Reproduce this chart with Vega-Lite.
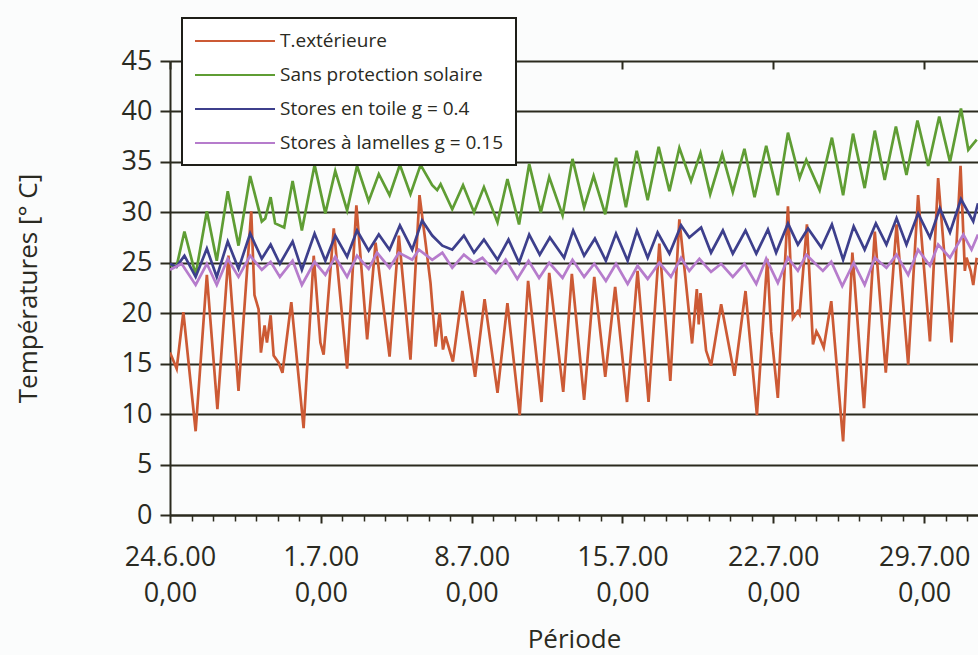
{
  "$schema": "https://vega.github.io/schema/vega-lite/v6.json",
  "width": 808,
  "height": 454,
  "autosize": "none",
  "padding": {"left": 170, "top": 61, "right": 0, "bottom": 140},
  "background": "#fbfcfc",
  "config": {
    "font": "Open Sans",
    "view": {"stroke": null},
    "legend": {"strokeWidth": 2}
  },
  "data": {"values": [
    {"s":"T.extérieure","d":0,"v":16.1},{"s":"T.extérieure","d":0.31,"v":14.5},{"s":"T.extérieure","d":0.62,"v":20.1},{"s":"T.extérieure","d":1.19,"v":8.3},{"s":"T.extérieure","d":1.71,"v":23.8},{"s":"T.extérieure","d":2.2,"v":10.5},{"s":"T.extérieure","d":2.71,"v":25.7},{"s":"T.extérieure","d":3.18,"v":12.3},{"s":"T.extérieure","d":3.77,"v":30.1},{"s":"T.extérieure","d":3.92,"v":21.8},{"s":"T.extérieure","d":4.11,"v":20.4},{"s":"T.extérieure","d":4.22,"v":16.1},{"s":"T.extérieure","d":4.39,"v":18.8},{"s":"T.extérieure","d":4.5,"v":17.1},{"s":"T.extérieure","d":4.67,"v":19.8},{"s":"T.extérieure","d":4.81,"v":15.8},{"s":"T.extérieure","d":5.04,"v":15.1},{"s":"T.extérieure","d":5.22,"v":14.1},{"s":"T.extérieure","d":5.63,"v":21.1},{"s":"T.extérieure","d":6.2,"v":8.6},{"s":"T.extérieure","d":6.67,"v":25.7},{"s":"T.extérieure","d":6.98,"v":17.1},{"s":"T.extérieure","d":7.13,"v":15.9},{"s":"T.extérieure","d":7.6,"v":28.4},{"s":"T.extérieure","d":8.22,"v":14.5},{"s":"T.extérieure","d":8.65,"v":30.7},{"s":"T.extérieure","d":9.15,"v":17.4},{"s":"T.extérieure","d":9.54,"v":27.0},{"s":"T.extérieure","d":10.19,"v":15.7},{"s":"T.extérieure","d":10.62,"v":27.7},{"s":"T.extérieure","d":11.16,"v":15.4},{"s":"T.extérieure","d":11.58,"v":31.7},{"s":"T.extérieure","d":11.86,"v":27.0},{"s":"T.extérieure","d":12.09,"v":23.0},{"s":"T.extérieure","d":12.33,"v":16.7},{"s":"T.extérieure","d":12.51,"v":20.0},{"s":"T.extérieure","d":12.67,"v":16.4},{"s":"T.extérieure","d":12.79,"v":17.7},{"s":"T.extérieure","d":13.13,"v":15.2},{"s":"T.extérieure","d":13.57,"v":22.2},{"s":"T.extérieure","d":14.16,"v":13.7},{"s":"T.extérieure","d":14.6,"v":21.4},{"s":"T.extérieure","d":15.2,"v":12.1},{"s":"T.extérieure","d":15.66,"v":21.0},{"s":"T.extérieure","d":16.23,"v":9.9},{"s":"T.extérieure","d":16.62,"v":23.2},{"s":"T.extérieure","d":17.24,"v":11.2},{"s":"T.extérieure","d":17.6,"v":24.0},{"s":"T.extérieure","d":18.25,"v":12.2},{"s":"T.extérieure","d":18.65,"v":23.9},{"s":"T.extérieure","d":19.22,"v":11.4},{"s":"T.extérieure","d":19.69,"v":23.6},{"s":"T.extérieure","d":20.2,"v":13.7},{"s":"T.extérieure","d":20.66,"v":22.6},{"s":"T.extérieure","d":21.21,"v":11.2},{"s":"T.extérieure","d":21.7,"v":24.2},{"s":"T.extérieure","d":22.21,"v":11.2},{"s":"T.extérieure","d":22.71,"v":26.9},{"s":"T.extérieure","d":23.22,"v":13.3},{"s":"T.extérieure","d":23.64,"v":29.3},{"s":"T.extérieure","d":23.95,"v":22.9},{"s":"T.extérieure","d":24.23,"v":17.0},{"s":"T.extérieure","d":24.45,"v":22.4},{"s":"T.extérieure","d":24.54,"v":18.9},{"s":"T.extérieure","d":24.62,"v":22.0},{"s":"T.extérieure","d":24.88,"v":16.3},{"s":"T.extérieure","d":25.11,"v":14.8},{"s":"T.extérieure","d":25.58,"v":20.9},{"s":"T.extérieure","d":26.2,"v":13.8},{"s":"T.extérieure","d":26.71,"v":22.2},{"s":"T.extérieure","d":27.24,"v":9.9},{"s":"T.extérieure","d":27.72,"v":25.4},{"s":"T.extérieure","d":27.9,"v":18.2},{"s":"T.extérieure","d":28.21,"v":11.6},{"s":"T.extérieure","d":28.68,"v":30.6},{"s":"T.extérieure","d":28.91,"v":19.5},{"s":"T.extérieure","d":29.14,"v":20.2},{"s":"T.extérieure","d":29.22,"v":19.9},{"s":"T.extérieure","d":29.56,"v":28.8},{"s":"T.extérieure","d":29.84,"v":16.9},{"s":"T.extérieure","d":30.0,"v":18.2},{"s":"T.extérieure","d":30.15,"v":17.6},{"s":"T.extérieure","d":30.34,"v":16.6},{"s":"T.extérieure","d":30.69,"v":21.2},{"s":"T.extérieure","d":31.24,"v":7.3},{"s":"T.extérieure","d":31.67,"v":26.0},{"s":"T.extérieure","d":32.21,"v":10.6},{"s":"T.extérieure","d":32.71,"v":28.1},{"s":"T.extérieure","d":33.22,"v":14.1},{"s":"T.extérieure","d":33.72,"v":28.8},{"s":"T.extérieure","d":34.26,"v":14.9},{"s":"T.extérieure","d":34.72,"v":31.7},{"s":"T.extérieure","d":35.27,"v":17.2},{"s":"T.extérieure","d":35.65,"v":33.4},{"s":"T.extérieure","d":36.27,"v":17.1},{"s":"T.extérieure","d":36.69,"v":34.6},{"s":"T.extérieure","d":36.89,"v":24.2},{"s":"T.extérieure","d":36.97,"v":25.5},{"s":"T.extérieure","d":37.16,"v":24.2},{"s":"T.extérieure","d":37.28,"v":22.8},{"s":"T.extérieure","d":37.44,"v":25.5},

    {"s":"Sans protection solaire","d":0,"v":24.8},{"s":"Sans protection solaire","d":0.3,"v":24.6},{"s":"Sans protection solaire","d":0.67,"v":28.1},{"s":"Sans protection solaire","d":1.19,"v":23.8},{"s":"Sans protection solaire","d":1.71,"v":30.1},{"s":"Sans protection solaire","d":2.17,"v":25.2},{"s":"Sans protection solaire","d":2.68,"v":32.1},{"s":"Sans protection solaire","d":3.18,"v":26.7},{"s":"Sans protection solaire","d":3.72,"v":33.6},{"s":"Sans protection solaire","d":4.26,"v":29.1},{"s":"Sans protection solaire","d":4.42,"v":29.4},{"s":"Sans protection solaire","d":4.67,"v":31.5},{"s":"Sans protection solaire","d":4.88,"v":28.9},{"s":"Sans protection solaire","d":5.3,"v":28.5},{"s":"Sans protection solaire","d":5.69,"v":33.1},{"s":"Sans protection solaire","d":6.12,"v":28.2},{"s":"Sans protection solaire","d":6.71,"v":34.7},{"s":"Sans protection solaire","d":7.21,"v":29.9},{"s":"Sans protection solaire","d":7.67,"v":34.1},{"s":"Sans protection solaire","d":8.22,"v":30.2},{"s":"Sans protection solaire","d":8.68,"v":34.6},{"s":"Sans protection solaire","d":9.22,"v":31.1},{"s":"Sans protection solaire","d":9.69,"v":33.8},{"s":"Sans protection solaire","d":10.19,"v":31.7},{"s":"Sans protection solaire","d":10.67,"v":34.7},{"s":"Sans protection solaire","d":11.16,"v":31.8},{"s":"Sans protection solaire","d":11.63,"v":34.7},{"s":"Sans protection solaire","d":12.17,"v":32.7},{"s":"Sans protection solaire","d":12.4,"v":32.2},{"s":"Sans protection solaire","d":12.56,"v":32.8},{"s":"Sans protection solaire","d":13.1,"v":30.3},{"s":"Sans protection solaire","d":13.6,"v":32.7},{"s":"Sans protection solaire","d":14.11,"v":30.0},{"s":"Sans protection solaire","d":14.57,"v":32.5},{"s":"Sans protection solaire","d":15.2,"v":29.0},{"s":"Sans protection solaire","d":15.66,"v":33.3},{"s":"Sans protection solaire","d":16.2,"v":28.8},{"s":"Sans protection solaire","d":16.67,"v":34.8},{"s":"Sans protection solaire","d":17.21,"v":30.0},{"s":"Sans protection solaire","d":17.6,"v":33.5},{"s":"Sans protection solaire","d":18.22,"v":29.7},{"s":"Sans protection solaire","d":18.68,"v":35.3},{"s":"Sans protection solaire","d":19.22,"v":30.5},{"s":"Sans protection solaire","d":19.66,"v":33.6},{"s":"Sans protection solaire","d":20.2,"v":29.8},{"s":"Sans protection solaire","d":20.7,"v":35.4},{"s":"Sans protection solaire","d":21.16,"v":30.5},{"s":"Sans protection solaire","d":21.66,"v":36.1},{"s":"Sans protection solaire","d":22.17,"v":31.2},{"s":"Sans protection solaire","d":22.68,"v":36.5},{"s":"Sans protection solaire","d":23.18,"v":32.1},{"s":"Sans protection solaire","d":23.64,"v":36.4},{"s":"Sans protection solaire","d":24.18,"v":33.1},{"s":"Sans protection solaire","d":24.62,"v":35.9},{"s":"Sans protection solaire","d":25.07,"v":31.8},{"s":"Sans protection solaire","d":25.63,"v":35.8},{"s":"Sans protection solaire","d":26.12,"v":32.0},{"s":"Sans protection solaire","d":26.66,"v":36.3},{"s":"Sans protection solaire","d":27.13,"v":31.5},{"s":"Sans protection solaire","d":27.67,"v":36.6},{"s":"Sans protection solaire","d":28.21,"v":31.7},{"s":"Sans protection solaire","d":28.68,"v":37.9},{"s":"Sans protection solaire","d":29.22,"v":33.4},{"s":"Sans protection solaire","d":29.53,"v":35.2},{"s":"Sans protection solaire","d":30.15,"v":32.2},{"s":"Sans protection solaire","d":30.72,"v":37.4},{"s":"Sans protection solaire","d":31.24,"v":31.7},{"s":"Sans protection solaire","d":31.7,"v":37.8},{"s":"Sans protection solaire","d":32.24,"v":32.4},{"s":"Sans protection solaire","d":32.71,"v":38.1},{"s":"Sans protection solaire","d":33.17,"v":33.2},{"s":"Sans protection solaire","d":33.69,"v":38.5},{"s":"Sans protection solaire","d":34.18,"v":33.7},{"s":"Sans protection solaire","d":34.69,"v":39.1},{"s":"Sans protection solaire","d":35.19,"v":34.6},{"s":"Sans protection solaire","d":35.7,"v":39.5},{"s":"Sans protection solaire","d":36.2,"v":35.0},{"s":"Sans protection solaire","d":36.71,"v":40.3},{"s":"Sans protection solaire","d":37.05,"v":36.2},{"s":"Sans protection solaire","d":37.44,"v":37.2},

    {"s":"Stores en toile g = 0.4","d":0,"v":24.9},{"s":"Stores en toile g = 0.4","d":0.3,"v":24.6},{"s":"Stores en toile g = 0.4","d":0.67,"v":25.7},{"s":"Stores en toile g = 0.4","d":1.19,"v":23.6},{"s":"Stores en toile g = 0.4","d":1.71,"v":26.4},{"s":"Stores en toile g = 0.4","d":2.17,"v":23.6},{"s":"Stores en toile g = 0.4","d":2.68,"v":27.1},{"s":"Stores en toile g = 0.4","d":3.18,"v":24.4},{"s":"Stores en toile g = 0.4","d":3.72,"v":27.9},{"s":"Stores en toile g = 0.4","d":4.26,"v":25.4},{"s":"Stores en toile g = 0.4","d":4.67,"v":26.8},{"s":"Stores en toile g = 0.4","d":5.1,"v":24.9},{"s":"Stores en toile g = 0.4","d":5.69,"v":27.1},{"s":"Stores en toile g = 0.4","d":6.12,"v":24.3},{"s":"Stores en toile g = 0.4","d":6.71,"v":27.9},{"s":"Stores en toile g = 0.4","d":7.21,"v":25.2},{"s":"Stores en toile g = 0.4","d":7.67,"v":27.7},{"s":"Stores en toile g = 0.4","d":8.22,"v":25.6},{"s":"Stores en toile g = 0.4","d":8.68,"v":28.2},{"s":"Stores en toile g = 0.4","d":9.22,"v":26.2},{"s":"Stores en toile g = 0.4","d":9.69,"v":27.8},{"s":"Stores en toile g = 0.4","d":10.19,"v":26.3},{"s":"Stores en toile g = 0.4","d":10.67,"v":28.7},{"s":"Stores en toile g = 0.4","d":11.24,"v":26.3},{"s":"Stores en toile g = 0.4","d":11.7,"v":29.2},{"s":"Stores en toile g = 0.4","d":12.17,"v":27.7},{"s":"Stores en toile g = 0.4","d":12.64,"v":26.7},{"s":"Stores en toile g = 0.4","d":13.1,"v":26.3},{"s":"Stores en toile g = 0.4","d":13.64,"v":27.7},{"s":"Stores en toile g = 0.4","d":14.11,"v":26.0},{"s":"Stores en toile g = 0.4","d":14.57,"v":27.3},{"s":"Stores en toile g = 0.4","d":15.2,"v":25.3},{"s":"Stores en toile g = 0.4","d":15.71,"v":27.3},{"s":"Stores en toile g = 0.4","d":16.2,"v":25.0},{"s":"Stores en toile g = 0.4","d":16.67,"v":27.8},{"s":"Stores en toile g = 0.4","d":17.16,"v":25.8},{"s":"Stores en toile g = 0.4","d":17.63,"v":27.5},{"s":"Stores en toile g = 0.4","d":18.29,"v":25.5},{"s":"Stores en toile g = 0.4","d":18.71,"v":28.2},{"s":"Stores en toile g = 0.4","d":19.22,"v":25.7},{"s":"Stores en toile g = 0.4","d":19.72,"v":27.4},{"s":"Stores en toile g = 0.4","d":20.23,"v":25.2},{"s":"Stores en toile g = 0.4","d":20.7,"v":27.9},{"s":"Stores en toile g = 0.4","d":21.24,"v":25.2},{"s":"Stores en toile g = 0.4","d":21.67,"v":28.2},{"s":"Stores en toile g = 0.4","d":22.17,"v":25.5},{"s":"Stores en toile g = 0.4","d":22.63,"v":28.0},{"s":"Stores en toile g = 0.4","d":23.18,"v":25.9},{"s":"Stores en toile g = 0.4","d":23.72,"v":28.7},{"s":"Stores en toile g = 0.4","d":24.1,"v":27.5},{"s":"Stores en toile g = 0.4","d":24.65,"v":28.5},{"s":"Stores en toile g = 0.4","d":25.11,"v":26.0},{"s":"Stores en toile g = 0.4","d":25.66,"v":28.2},{"s":"Stores en toile g = 0.4","d":26.12,"v":25.9},{"s":"Stores en toile g = 0.4","d":26.71,"v":28.2},{"s":"Stores en toile g = 0.4","d":27.21,"v":25.9},{"s":"Stores en toile g = 0.4","d":27.75,"v":28.3},{"s":"Stores en toile g = 0.4","d":28.13,"v":26.0},{"s":"Stores en toile g = 0.4","d":28.68,"v":28.9},{"s":"Stores en toile g = 0.4","d":29.14,"v":26.8},{"s":"Stores en toile g = 0.4","d":29.61,"v":28.4},{"s":"Stores en toile g = 0.4","d":30.23,"v":26.5},{"s":"Stores en toile g = 0.4","d":30.72,"v":28.8},{"s":"Stores en toile g = 0.4","d":31.24,"v":25.3},{"s":"Stores en toile g = 0.4","d":31.73,"v":28.6},{"s":"Stores en toile g = 0.4","d":32.24,"v":26.3},{"s":"Stores en toile g = 0.4","d":32.76,"v":28.9},{"s":"Stores en toile g = 0.4","d":33.25,"v":26.8},{"s":"Stores en toile g = 0.4","d":33.72,"v":29.4},{"s":"Stores en toile g = 0.4","d":34.18,"v":26.8},{"s":"Stores en toile g = 0.4","d":34.72,"v":29.9},{"s":"Stores en toile g = 0.4","d":35.27,"v":27.5},{"s":"Stores en toile g = 0.4","d":35.73,"v":30.4},{"s":"Stores en toile g = 0.4","d":36.2,"v":28.0},{"s":"Stores en toile g = 0.4","d":36.71,"v":31.3},{"s":"Stores en toile g = 0.4","d":37.28,"v":29.1},{"s":"Stores en toile g = 0.4","d":37.5,"v":30.9},

    {"s":"Stores à lamelles g = 0.15","d":0,"v":24.3},{"s":"Stores à lamelles g = 0.15","d":0.54,"v":24.9},{"s":"Stores à lamelles g = 0.15","d":1.19,"v":22.8},{"s":"Stores à lamelles g = 0.15","d":1.71,"v":24.9},{"s":"Stores à lamelles g = 0.15","d":2.17,"v":22.8},{"s":"Stores à lamelles g = 0.15","d":2.68,"v":25.4},{"s":"Stores à lamelles g = 0.15","d":3.18,"v":23.6},{"s":"Stores à lamelles g = 0.15","d":3.72,"v":25.7},{"s":"Stores à lamelles g = 0.15","d":4.26,"v":24.3},{"s":"Stores à lamelles g = 0.15","d":4.67,"v":25.1},{"s":"Stores à lamelles g = 0.15","d":5.1,"v":23.6},{"s":"Stores à lamelles g = 0.15","d":5.69,"v":25.2},{"s":"Stores à lamelles g = 0.15","d":6.12,"v":22.8},{"s":"Stores à lamelles g = 0.15","d":6.71,"v":25.1},{"s":"Stores à lamelles g = 0.15","d":7.21,"v":23.8},{"s":"Stores à lamelles g = 0.15","d":7.67,"v":25.6},{"s":"Stores à lamelles g = 0.15","d":8.22,"v":23.6},{"s":"Stores à lamelles g = 0.15","d":8.68,"v":25.7},{"s":"Stores à lamelles g = 0.15","d":9.22,"v":24.4},{"s":"Stores à lamelles g = 0.15","d":9.61,"v":26.0},{"s":"Stores à lamelles g = 0.15","d":10.19,"v":24.5},{"s":"Stores à lamelles g = 0.15","d":10.62,"v":26.0},{"s":"Stores à lamelles g = 0.15","d":11.24,"v":25.3},{"s":"Stores à lamelles g = 0.15","d":11.55,"v":26.3},{"s":"Stores à lamelles g = 0.15","d":12.17,"v":25.3},{"s":"Stores à lamelles g = 0.15","d":12.64,"v":26.0},{"s":"Stores à lamelles g = 0.15","d":13.1,"v":24.5},{"s":"Stores à lamelles g = 0.15","d":13.64,"v":25.8},{"s":"Stores à lamelles g = 0.15","d":14.11,"v":25.0},{"s":"Stores à lamelles g = 0.15","d":14.5,"v":25.5},{"s":"Stores à lamelles g = 0.15","d":15.12,"v":24.0},{"s":"Stores à lamelles g = 0.15","d":15.58,"v":25.3},{"s":"Stores à lamelles g = 0.15","d":16.12,"v":23.4},{"s":"Stores à lamelles g = 0.15","d":16.64,"v":25.2},{"s":"Stores à lamelles g = 0.15","d":17.13,"v":23.5},{"s":"Stores à lamelles g = 0.15","d":17.6,"v":25.0},{"s":"Stores à lamelles g = 0.15","d":18.22,"v":23.5},{"s":"Stores à lamelles g = 0.15","d":18.68,"v":25.3},{"s":"Stores à lamelles g = 0.15","d":19.22,"v":23.6},{"s":"Stores à lamelles g = 0.15","d":19.69,"v":24.9},{"s":"Stores à lamelles g = 0.15","d":20.23,"v":23.2},{"s":"Stores à lamelles g = 0.15","d":20.7,"v":24.9},{"s":"Stores à lamelles g = 0.15","d":21.24,"v":22.9},{"s":"Stores à lamelles g = 0.15","d":21.7,"v":24.7},{"s":"Stores à lamelles g = 0.15","d":22.17,"v":23.4},{"s":"Stores à lamelles g = 0.15","d":22.71,"v":25.0},{"s":"Stores à lamelles g = 0.15","d":23.25,"v":23.6},{"s":"Stores à lamelles g = 0.15","d":23.72,"v":25.5},{"s":"Stores à lamelles g = 0.15","d":24.1,"v":24.2},{"s":"Stores à lamelles g = 0.15","d":24.57,"v":25.4},{"s":"Stores à lamelles g = 0.15","d":25.11,"v":24.1},{"s":"Stores à lamelles g = 0.15","d":25.58,"v":24.9},{"s":"Stores à lamelles g = 0.15","d":26.12,"v":23.6},{"s":"Stores à lamelles g = 0.15","d":26.66,"v":24.9},{"s":"Stores à lamelles g = 0.15","d":27.21,"v":22.9},{"s":"Stores à lamelles g = 0.15","d":27.67,"v":25.4},{"s":"Stores à lamelles g = 0.15","d":28.21,"v":23.0},{"s":"Stores à lamelles g = 0.15","d":28.68,"v":25.5},{"s":"Stores à lamelles g = 0.15","d":29.14,"v":24.2},{"s":"Stores à lamelles g = 0.15","d":29.53,"v":25.8},{"s":"Stores à lamelles g = 0.15","d":30.3,"v":24.2},{"s":"Stores à lamelles g = 0.15","d":30.69,"v":25.1},{"s":"Stores à lamelles g = 0.15","d":31.2,"v":22.7},{"s":"Stores à lamelles g = 0.15","d":31.73,"v":25.0},{"s":"Stores à lamelles g = 0.15","d":32.24,"v":22.8},{"s":"Stores à lamelles g = 0.15","d":32.71,"v":25.5},{"s":"Stores à lamelles g = 0.15","d":33.25,"v":24.5},{"s":"Stores à lamelles g = 0.15","d":33.72,"v":25.8},{"s":"Stores à lamelles g = 0.15","d":34.26,"v":23.8},{"s":"Stores à lamelles g = 0.15","d":34.72,"v":26.3},{"s":"Stores à lamelles g = 0.15","d":35.27,"v":24.7},{"s":"Stores à lamelles g = 0.15","d":35.65,"v":26.8},{"s":"Stores à lamelles g = 0.15","d":36.2,"v":25.5},{"s":"Stores à lamelles g = 0.15","d":36.82,"v":27.8},{"s":"Stores à lamelles g = 0.15","d":37.2,"v":26.3},{"s":"Stores à lamelles g = 0.15","d":37.5,"v":27.8}
  ]},
  "mark": {"type": "line", "strokeWidth": 2.7, "clip": true},
  "encoding": {
    "x": {
      "field": "d", "type": "quantitative",
      "scale": {"domain": [0, 37.5], "nice": false, "zero": false},
      "axis": {
        "title": "Période",
        "titleFontSize": 26, "titleFontWeight": "normal", "titleColor": "#2a2a22", "titlePadding": 20,
        "values": [0,1,2,3,4,5,6,7,8,9,10,11,12,13,14,15,16,17,18,19,20,21,22,23,24,25,26,27,28,29,30,31,32,33,34,35,36,37],
        "labelExpr": "datum.value % 7 === 0 ? [datum.value === 0 ? '24.6.00' : (datum.value - 6) + '.7.00', '0,00'] : ''",
        "labelFontSize": 27, "labelColor": "#2a2a22", "labelLineHeight": 36, "labelPadding": 21,
        "labelOverlap": false, "labelFlush": false, "labelBound": false,
        "domainColor": "#2b2a1e", "domainWidth": 2,
        "tickColor": "#2b2a1e",
        "tickSize": {"condition": {"test": "datum.value % 7 === 0", "value": 8}, "value": 6},
        "tickWidth": {"condition": {"test": "datum.value % 7 === 0", "value": 2}, "value": 1.5},
        "grid": true, "gridColor": "#2b2a1e", "gridWidth": 2, "gridDash": [8, 2000],
        "gridOpacity": {"condition": {"test": "datum.value % 7 === 0", "value": 1}, "value": 0}
      }
    },
    "y": {
      "field": "v", "type": "quantitative",
      "scale": {"domain": [0, 45], "nice": false},
      "axis": {
        "title": "Températures [° C]",
        "titleFontSize": 26, "titleFontWeight": "normal", "titleColor": "#2a2a22", "titlePadding": 80,
        "values": [0,5,10,15,20,25,30,35,40,45],
        "labelFontSize": 27, "labelColor": "#2a2a22", "labelPadding": 8,
        "domainColor": "#2b2a1e", "domainWidth": 2,
        "tickColor": "#2b2a1e", "tickSize": 10, "tickWidth": 2,
        "grid": true, "gridColor": "#2b2a1e", "gridWidth": 2
      }
    },
    "color": {
      "field": "s", "type": "nominal",
      "scale": {
        "domain": ["T.extérieure", "Sans protection solaire", "Stores en toile g = 0.4", "Stores à lamelles g = 0.15"],
        "range": ["#cc5a35", "#5f9d34", "#3d3f8c", "#b67ccc"]
      },
      "legend": {
        "title": null,
        "orient": "none", "legendX": 12, "legendY": -43,
        "fillColor": "#ffffff", "strokeColor": "#1e1e18",
        "padding": 12,
        "symbolType": "M-1,0H7", "symbolSize": 400, "symbolStrokeWidth": 2,
        "labelFontSize": 19, "labelColor": "#2a2a22", "labelOffset": 64,
        "rowPadding": 13, "labelLimit": 400
      }
    }
  }
}
